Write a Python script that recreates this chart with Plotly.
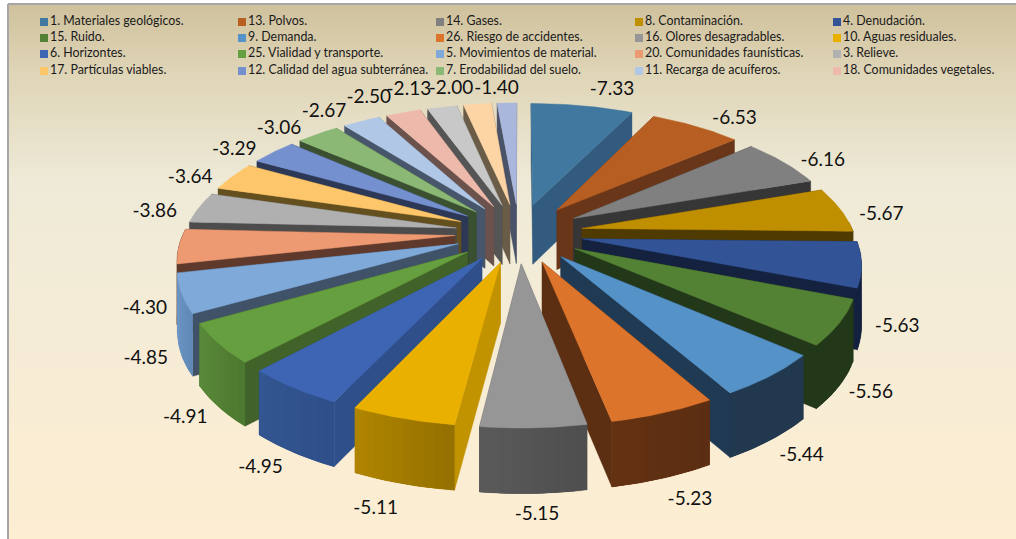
import math
import plotly.graph_objects as go

categories = ["1. Materiales geológicos.", "13. Polvos.", "14. Gases.", "8. Contaminación.", "4. Denudación.",
              "15. Ruido.", "9. Demanda.", "26. Riesgo de accidentes.", "16. Olores desagradables.", "10. Aguas residuales.",
              "6. Horizontes.", "25. Vialidad y transporte.", "5. Movimientos de material.", "20. Comunidades faunísticas.", "3. Relieve.",
              "17. Partículas viables.", "12. Calidad del agua subterránea.", "7. Erodabilidad del suelo.", "11. Recarga de acuíferos.", "18. Comunidades vegetales."]
values = [-7.33, -6.53, -6.16, -5.67, -5.63, -5.56, -5.44, -5.23, -5.15, -5.11, -4.95, -4.91,
          -4.85, -4.30, -3.86, -3.64, -3.29, -3.06, -2.67, -2.50, -2.13, -2.00, -1.40]
top_colors = ["#41789f", "#b75e22", "#808080", "#c08f00", "#325496", "#548235", "#5592c8", "#dc742c", "#969696", "#e9b000", "#3e65b3", "#669f3f",
              "#7fa9d8", "#ed9a73", "#b0b0b0", "#fec66a", "#7590cf", "#8bb975", "#b0c8e6", "#edb9aa", "#c8c8c8", "#fdd5a5", "#aab7dc"]
wall_colors = ["#335b7f", "#69361a", "#363636", "#4f3b00", "#14213f", "#233819", "#203a53", "#5c2e12", "#5a5a5a", "#c29300", "#2e4f8a", "#416228",
               "#405268", "#5f3a2c", "#4c4c4c", "#64501f", "#2d3857", "#3a5030", "#47566a", "#6c524c", "#555555", "#6a5c46", "#4a5268"]
rim_start = ["#335b7f", "#69361a", "#363636", "#4f3b00", "#14213f", "#233819", "#22384f", "#5a2d12", "#4e4e4e", "#937000", "#2e4f8a", "#4d7830",
             "#6088b5", "#5f3a2c", "#4c4c4c", "#64501f", "#2d3857", "#3a5030", "#47566a", "#6c524c", "#555555", "#6a5c46", "#4a5268"]
rim_end = ["#335b7f", "#69361a", "#363636", "#4f3b00", "#14213f", "#233819", "#22384f", "#653212", "#5a5a5a", "#b08500", "#335690", "#5a8a3a",
           "#7099c8", "#5f3a2c", "#4c4c4c", "#64501f", "#2d3857", "#3a5030", "#47566a", "#6c524c", "#555555", "#6a5c46", "#4a5268"]
label_nudges = [(23, -2), (19, 5), (8, 7), (0, 8), (-11, 58), (-16, 57), (-9, 58), (3, 58), (1, 55), (-8, 60), (3, 56), (12, 58),
                (12, 57), (11, 61), (-4, 8), (-8, 9), (-11, 7), (-16, 6), (-20, 3), (-22, -1), (-25, -3), (-22, -1), (-9, 0)]

CX, CY = 519, 233
R, D = 280, 66
K, A = 0.000578, 0.451
XS = 0.97
H = 60
LABEL_GAP = 45
STRIPS = 10


def project(X, Y):
    s = 1 / (1 - K * Y)
    return CX + XS * X * s, CY + A * Y * s, H * s ** 0.4


def mix(c1, c2, t):
    a = [int(c1[i:i + 2], 16) for i in (1, 3, 5)]
    b = [int(c2[i:i + 2], 16) for i in (1, 3, 5)]
    return "#%02x%02x%02x" % tuple(round(p + (q - p) * t) for p, q in zip(a, b))


def poly(xs, ys, color, name=None, width=1.0):
    return go.Scatter(x=xs, y=ys, mode="lines", fill="toself", fillcolor=color,
                      line=dict(color=color, width=width), showlegend=False,
                      hoverinfo="skip" if name is None else "name", name=name or "")


fig = go.Figure()

# background panel with the vertical gradient
fig.add_trace(go.Scatter(
    x=[8, 1040, 1040, 8, 8], y=[4, 4, 560, 560, 4], mode="lines", fill="toself",
    fillgradient=dict(type="vertical", start=4, stop=539,
                      colorscale=[[0, "#cfc19c"], [0.13, "#dfd5b7"], [0.33, "#eeead7"], [0.6, "#f5ecd6"], [1, "#fdeed2"]]),
    line=dict(color="#a6a6a6", width=2), showlegend=False, hoverinfo="skip"))

total = sum(abs(v) for v in values)
slices = []
cum = 0.0
for i, v in enumerate(values):
    t0 = cum / total * 2 * math.pi
    cum += abs(v)
    t1 = cum / total * 2 * math.pi
    slices.append((i, t0, t1))


def world(theta, radius, bis):
    return radius * math.sin(theta) + D * math.sin(bis), -(radius * math.cos(theta) + D * math.cos(bis))


def rim_band(a0, a1, b, steps):
    arc = [project(*world(a0 + (a1 - a0) * j / steps, R, b)) for j in range(steps + 1)]
    xs = [p[0] for p in arc] + [p[0] for p in arc[::-1]]
    ys = [p[1] for p in arc] + [p[1] + p[2] for p in arc[::-1]]
    return xs, ys


order = sorted(slices, key=lambda s: -math.cos((s[1] + s[2]) / 2))
for i, t0, t1 in order:
    b = (t0 + t1) / 2
    tip = project(*world(b, 0, b))
    # radial walls, the one further from the viewer first
    edges = sorted([t0, t1], key=lambda t: -math.cos(t))
    for t in edges:
        o = project(*world(t, R, b))
        fig.add_trace(poly([tip[0], o[0], o[0], tip[0], tip[0]],
                           [tip[1], o[1], o[1] + o[2], tip[1] + tip[2], tip[1]], wall_colors[i], width=0.4))
    # curved rim: the part facing the viewer, a solid base with overlapping shaded strips on it
    visible = [k for k in range(STRIPS) if math.cos(t0 + (t1 - t0) * (k + 0.5) / STRIPS) <= 0.05]
    if visible:
        step = (t1 - t0) / STRIPS
        xs, ys = rim_band(t0 + visible[0] * step, t0 + (visible[-1] + 1) * step, b, 24)
        fig.add_trace(poly(xs, ys, mix(rim_start[i], rim_end[i], 0.5), width=0.4))
        for k in visible:
            end = t0 + min(k + 2, visible[-1] + 1) * step
            xs, ys = rim_band(t0 + k * step, end, b, 4)
            fig.add_trace(poly(xs, ys, mix(rim_start[i], rim_end[i], (k + 0.5) / STRIPS), width=0))
    # top face
    n = 30
    arc = [project(*world(t0 + (t1 - t0) * j / n, R, b)) for j in range(n + 1)]
    fig.add_trace(poly([tip[0]] + [p[0] for p in arc] + [tip[0]],
                       [tip[1]] + [p[1] for p in arc] + [tip[1]], top_colors[i],
                       name=f"{values[i]:.2f}", width=0.5))

# data labels
lx, ly, lt = [], [], []
for i, t0, t1 in slices:
    b = (t0 + t1) / 2
    p = project(*world(b, R + LABEL_GAP, b))
    lx.append(p[0] + label_nudges[i][0])
    ly.append(p[1] + label_nudges[i][1])
    lt.append(f"{values[i]:.2f}")
fig.add_trace(go.Scatter(x=lx, y=ly, text=lt, mode="text", showlegend=False, hoverinfo="skip",
                         textfont=dict(family="Lato", size=19, color="#111111")))

# legend
col_x = [44, 242, 440, 639, 837]
row_y = [22, 38, 54, 71]
gx = [col_x[k % 5] for k in range(len(categories))]
gy = [row_y[k // 5] for k in range(len(categories))]
fig.add_trace(go.Scatter(x=gx, y=gy, text=categories, mode="markers+text", textposition="middle right",
                         marker=dict(symbol="square", size=8, color=top_colors[:len(categories)]),
                         textfont=dict(family="Lato", size=12.4, color="#1a1a1a"),
                         showlegend=False, hoverinfo="skip"))

fig.update_layout(width=1016, height=539, margin=dict(l=0, r=0, t=0, b=0),
                  paper_bgcolor="white", plot_bgcolor="white", showlegend=False,
                  xaxis=dict(visible=False, range=[0, 1016], fixedrange=True),
                  yaxis=dict(visible=False, range=[539, 0], fixedrange=True))
fig.write_html("out.html", config={"displayModeBar": False},
               post_script="document.body.style.margin='0';")
